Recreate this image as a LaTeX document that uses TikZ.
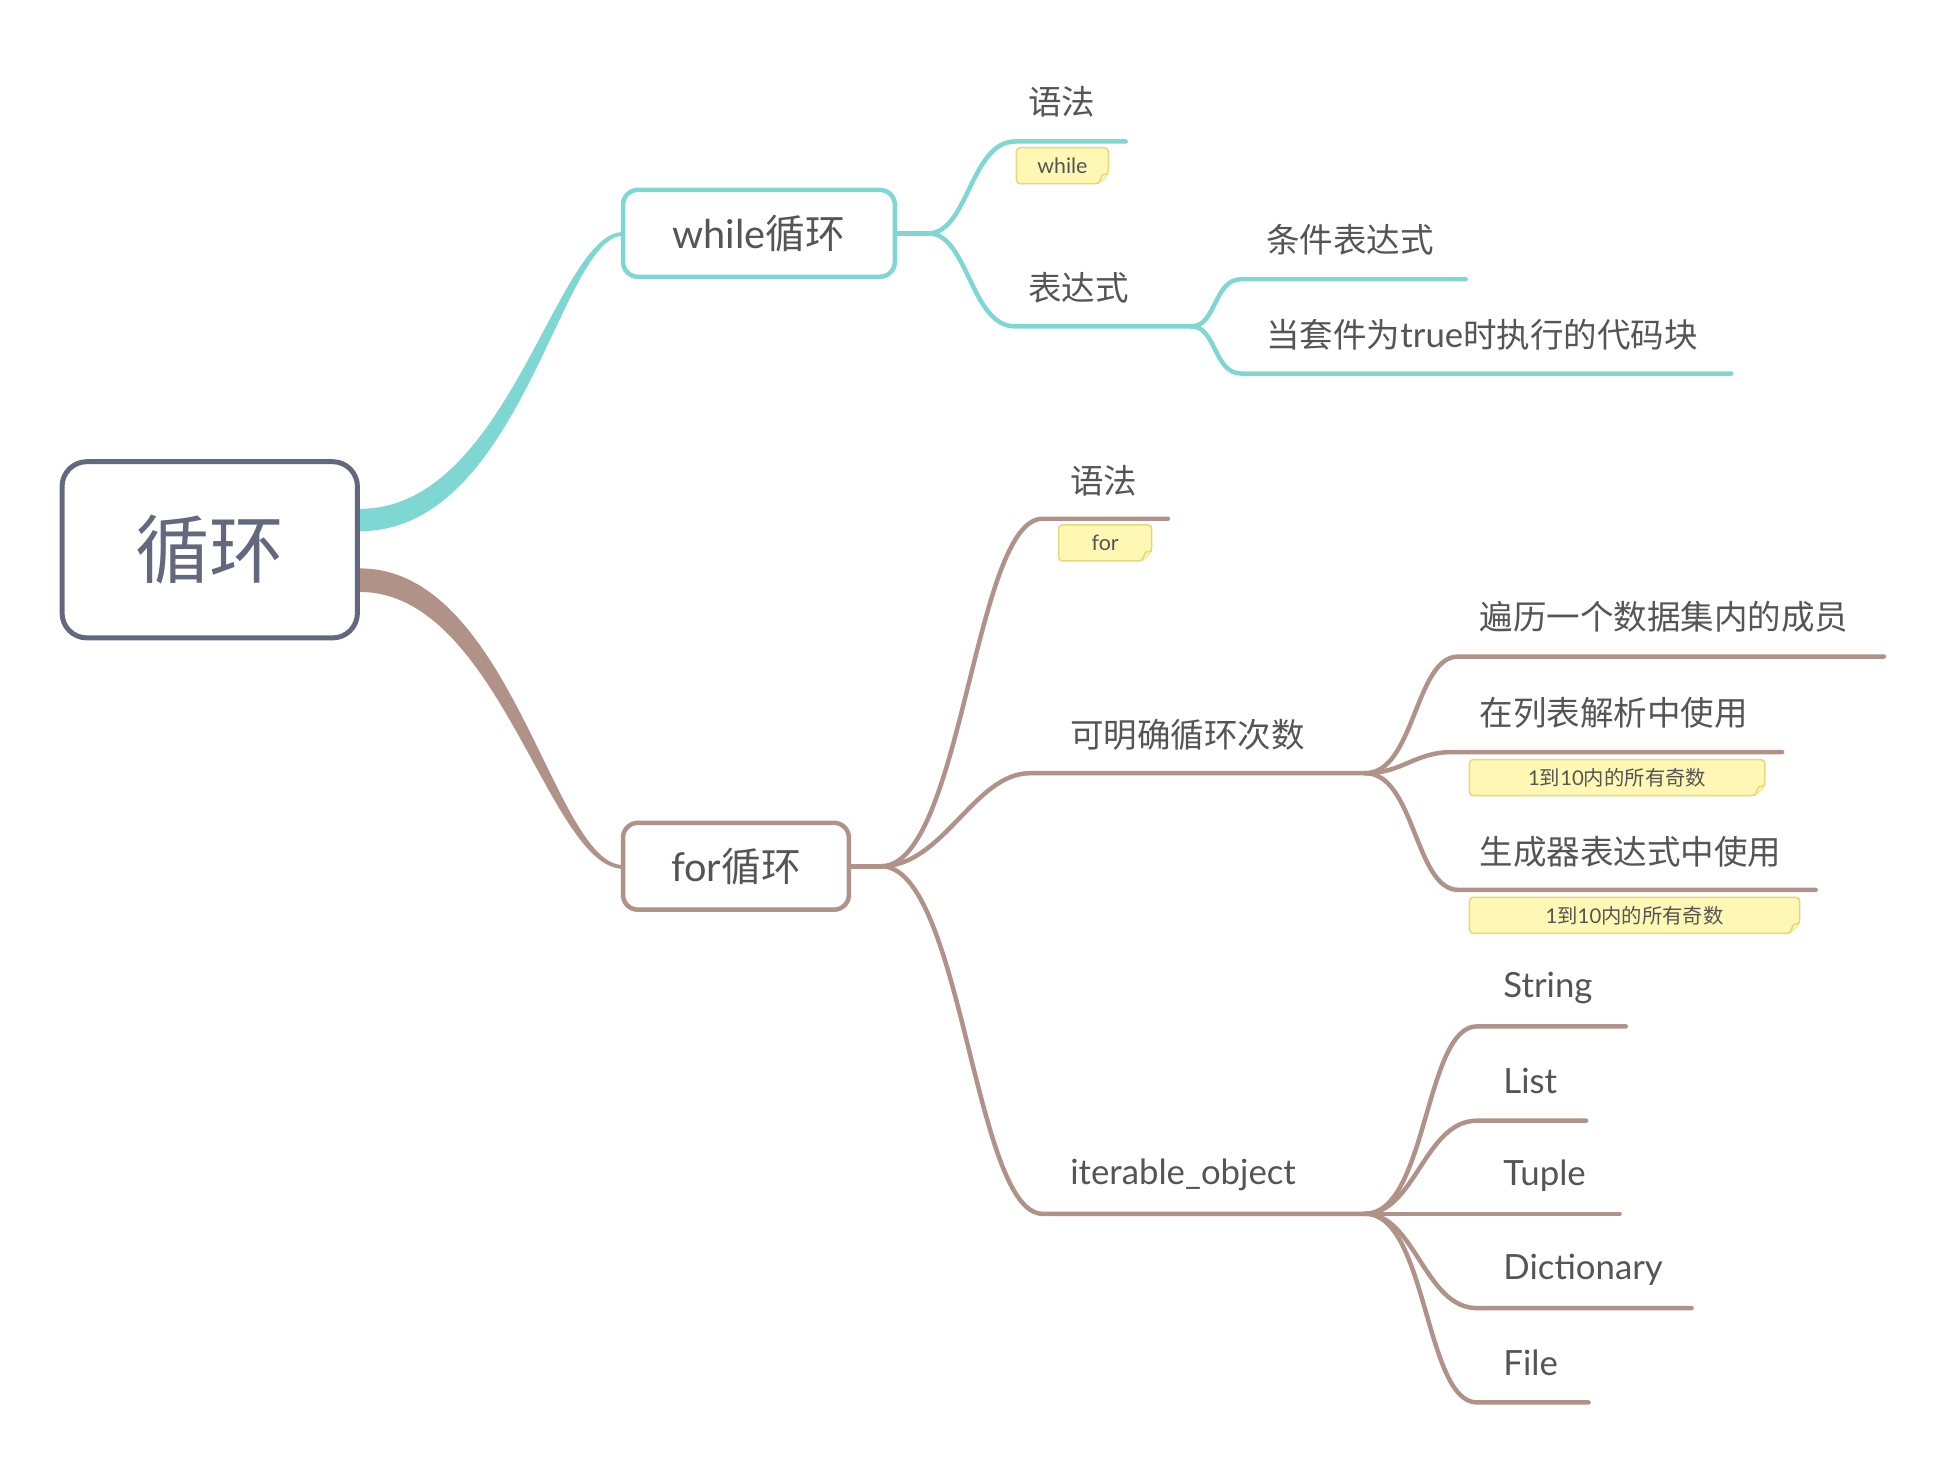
\documentclass[tikz,border=0pt]{standalone}
\usepackage{fontspec}
\setmainfont{Noto Sans CJK SC}
\newfontfamily\lt{Lato}
\definecolor{mmteal}{RGB}{126,215,211}
\definecolor{mmbrown}{RGB}{176,146,136}
\definecolor{rootc}{RGB}{100,104,126}
\definecolor{txt}{RGB}{85,85,85}
\definecolor{notefill}{RGB}{255,248,180}
\definecolor{noteline}{RGB}{232,214,122}
\newcommand{\notebox}[6]{%
  \path[notebg] (#2,#3) -- (#4,#3) -- (#4,{#5-8}) -- ({#4-8},#5) -- (#2,#5) -- cycle;
  \draw[notefold] (#4,{#5-8}) -- ({#4-5},{#5-7}) -- ({#4-8},#5);
  \node[notetxt] (#1) at ({(#2+#4)/2},{(#3+#5)/2}) {#6};
}
\begin{document}
\begin{tikzpicture}[x=0.5pt,y=-0.5pt,
  lbl/.style={anchor=west, inner sep=0pt, text=txt, font=\fontsize{13.5}{16}\selectfont},
  latlbl/.style={lbl, font=\lt\fontsize{14}{16}\selectfont},
  tln/.style={draw=mmteal, line width=1.8pt, line cap=round},
  bln/.style={draw=mmbrown, line width=1.8pt, line cap=round},
  notebg/.style={fill=notefill, draw=noteline, line width=0.6pt, rounded corners=1.5pt},
  notefold/.style={draw=noteline, line width=0.6pt, fill=notefill, line join=round},
  notetxt/.style={inner sep=0pt, text=txt, font=\fontsize{8.2}{10}\selectfont},
  rootbox/.style={draw=rootc, line width=2pt, rounded corners=10pt, fill=white,
    minimum width=119pt, minimum height=71pt, text=rootc, font=\fontsize{30}{34}\selectfont},
  subbox/.style={line width=1.8pt, rounded corners=6pt, fill=white,
    minimum height=35pt, text=txt, font=\fontsize{16}{19}\selectfont, inner sep=0pt}
]
\useasboundingbox (0,0) rectangle (1568,1181);
\fill[white] (0,0) rectangle (1568,1181);

% tapered main connectors
\fill[mmteal] (290,410) .. controls (410,410) and (448,187) .. (502,187)
  -- (502,190) .. controls (452,190) and (420,428) .. (290,428) -- cycle;
\fill[mmbrown] (290,458) .. controls (412,458) and (446,697) .. (502,697)
  -- (502,700) .. controls (442,700) and (402,477) .. (290,477) -- cycle;

% nodes
\node[rootbox] (root) at (169,443) {循环};
\node[subbox, draw=mmteal, minimum width=109.5pt] (while) at (611.5,188) {{\lt while}循环};
\node[subbox, draw=mmbrown, minimum width=91pt] (for) at (593,698) {{\lt for}循环};

% fork coordinates
\coordinate (wf) at (748,188);
\coordinate (ef) at (960,263);
\coordinate (ff) at (710,698);
\coordinate (kf) at (1100,623);
\coordinate (itf) at (1100,978);

% while branch
\draw[tln] (while.east) -- (wf);
\coordinate (w1e) at (907,114);
\draw[tln] (wf) .. controls (780,188) and (782,114) .. (818,114) -- (w1e);
\draw[tln] (wf) .. controls (780,188) and (782,263) .. (818,263) -- (ef);
\coordinate (e1e) at (1181,225);
\coordinate (e2e) at (1395,301);
\draw[tln] (ef) .. controls (980,263) and (978,225) .. (1000,225) -- (e1e);
\draw[tln] (ef) .. controls (980,263) and (978,301) .. (1000,301) -- (e2e);

\node[lbl] (wsyn) at (828,82) {语法};
\node[lbl] (wexp) at (828,232) {表达式};
\node[lbl] (cond) at (1020,193) {条件表达式};
\node[lbl] (suite) at (1020,270) {当套件为{\lt\fontsize{14}{16}\selectfont true}时执行的代码块};
\notebox{wnote}{819}{119}{893}{148}{\lt\fontsize{8.6}{10}\selectfont while}

% for branch
\draw[bln] (for.east) -- (ff);
\coordinate (f1e) at (941,418);
\draw[bln] (ff) .. controls (775,698) and (785,418) .. (840,418) -- (f1e);
\draw[bln] (ff) .. controls (760,698) and (785,623) .. (830,623) -- (kf);
\draw[bln] (ff) .. controls (775,698) and (785,978) .. (840,978) -- (itf);

\node[lbl] (fsyn) at (862,387) {语法};
\notebox{fnote}{853}{423}{928}{452}{\lt\fontsize{8.6}{10}\selectfont for}
\node[lbl] (cnt) at (862,592) {可明确循环次数};
\node[latlbl] (iter) at (862,947) {iterable\_object};

\coordinate (k1e) at (1518,529);
\coordinate (k2e) at (1436,606);
\coordinate (k3e) at (1463,717);
\draw[bln] (kf) .. controls (1140,623) and (1140,529) .. (1175,529) -- (k1e);
\draw[bln] (kf) .. controls (1130,623) and (1140,606) .. (1170,606) -- (k2e);
\draw[bln] (kf) .. controls (1140,623) and (1140,717) .. (1175,717) -- (k3e);
\node[lbl] (trav) at (1192,497) {遍历一个数据集内的成员};
\node[lbl] (lc) at (1192,574) {在列表解析中使用};
\node[lbl] (gen) at (1192,686) {生成器表达式中使用};
\notebox{note1}{1184}{612}{1422}{641}{{\lt 1}到{\lt 10}内的所有奇数}
\notebox{note2}{1184}{723}{1450}{752}{{\lt 1}到{\lt 10}内的所有奇数}

\coordinate (i1e) at (1310,827);
\coordinate (i2e) at (1278,903);
\coordinate (i3e) at (1305,978);
\coordinate (i4e) at (1363,1054);
\coordinate (i5e) at (1280,1130);
\draw[bln] (itf) .. controls (1150,978) and (1148,827) .. (1190,827) -- (i1e);
\draw[bln] (itf) .. controls (1140,978) and (1148,903) .. (1190,903) -- (i2e);
\draw[bln] (itf) -- (i3e);
\draw[bln] (itf) .. controls (1140,978) and (1148,1054) .. (1190,1054) -- (i4e);
\draw[bln] (itf) .. controls (1150,978) and (1148,1130) .. (1190,1130) -- (i5e);
\node[latlbl] (str) at (1211,796) {String};
\node[latlbl] (lst) at (1211,871) {List};
\node[latlbl] (tup) at (1211,947) {Tuple};
\node[latlbl] (dic) at (1211,1023) {Dictionary};
\node[latlbl] (fil) at (1211,1098) {File};
\end{tikzpicture}
\end{document}
